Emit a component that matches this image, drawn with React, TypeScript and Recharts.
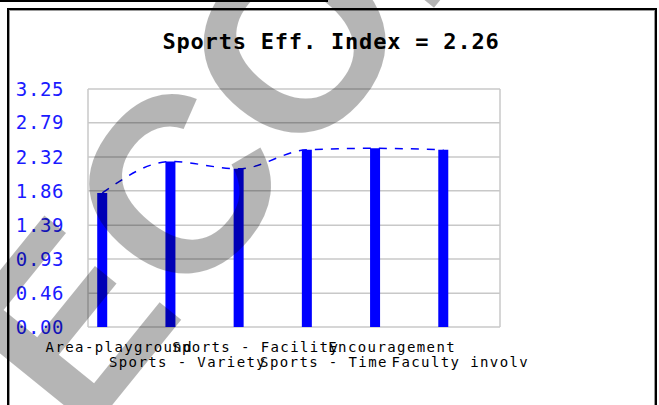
import React from 'react'
import {
  ComposedChart,
  Bar,
  Line,
  XAxis,
  YAxis,
  CartesianGrid,
} from 'recharts'

const categories = [
  'Area-playground',
  'Sports - Variety',
  'Sports - Facility',
  'Sports - Time',
  'Encouragement',
  'Faculty involv',
]
const scores = [1.83, 2.26, 2.16, 2.42, 2.44, 2.42]
const yTicks = [0, 0.46, 0.93, 1.39, 1.86, 2.32, 2.79, 3.25]
const effIndex = 2.26

const data = categories.map((name, i) => ({ idx: i, name, score: scores[i] }))

const mono = '"DejaVu Sans Mono", monospace'

function CategoryTick(props: any) {
  const { x, y, payload } = props
  const i = payload.value as number
  const row = i % 2
  return (
    <text
      x={x + 17}
      y={y + (row === 0 ? 25 : 40)}
      textAnchor="middle"
      fontFamily={mono}
      fontSize={14}
      letterSpacing={1.4}
      fill="#000"
    >
      {categories[i]}
    </text>
  )
}

export default function App() {
  return (
    <div
      style={{
        position: 'fixed',
        left: 0,
        top: 0,
        width: 659,
        height: 405,
        overflow: 'hidden',
        background: '#fff',
      }}
    >
      <div style={{ position: 'absolute', left: 0, top: 0, width: 328, height: 2, background: '#000' }} />
      <div
        style={{
          position: 'absolute',
          left: 7,
          top: 8,
          width: 650,
          height: 500,
          border: '2px solid #000',
          boxShadow: 'inset 1px 1px 0 #999, inset -1px 0 0 #999',
          boxSizing: 'border-box',
        }}
      />
      <div
        style={{
          position: 'absolute',
          left: 0,
          top: 30,
          width: 662,
          textAlign: 'center',
          fontFamily: mono,
          fontWeight: 'bold',
          fontSize: 22,
          letterSpacing: 0.8,
          color: '#000',
          lineHeight: '24px',
        }}
      >
        Sports Eff. Index = {effIndex.toFixed(2)}
      </div>
      <div style={{ position: 'absolute', left: 0, top: 0 }}>
        <ComposedChart
          width={659}
          height={405}
          data={data}
          margin={{ top: 89, right: 159, left: 0, bottom: 0 }}
        >
          <CartesianGrid
            stroke="#c8c8c8"
            strokeWidth={1.5}
            verticalCoordinatesGenerator={({ offset }: any) => [offset.left, offset.left + offset.width]}
          />
          <XAxis
            dataKey="idx"
            type="number"
            domain={[-0.21, 5.83]}
            allowDataOverflow
            ticks={[0, 1, 2, 3, 4, 5]}
            interval={0}
            axisLine={false}
            tickLine={false}
            tickSize={0}
            tickMargin={0}
            height={78}
            tick={<CategoryTick />}
          />
          <YAxis
            type="number"
            domain={[0, 3.25]}
            ticks={yTicks}
            interval={0}
            width={88}
            axisLine={false}
            tickLine={false}
            tickSize={0}
            tickMargin={24}
            tickFormatter={(v: number) => v.toFixed(2)}
            tick={{ fill: '#1a1aff', fontFamily: mono, fontSize: 19, letterSpacing: 0.6 }}
          />
          <Bar dataKey="score" fill="#0000ff" barSize={10} isAnimationActive={false} />
          <Line
            dataKey="score"
            type="monotone"
            stroke="#0000ff"
            strokeWidth={1.5}
            strokeDasharray="8 8"
            dot={false}
            isAnimationActive={false}
          />
        </ComposedChart>
      </div>
      <svg
        width={659}
        height={405}
        style={{ position: 'absolute', left: 0, top: 0, pointerEvents: 'none' }}
      >
        <g transform="translate(292 40) rotate(-51)">
          <text
            x={-444}
            y={90}
            fontFamily='"Liberation Sans", Arial, sans-serif'
            fontWeight="bold"
            fontSize={250}
            fill="#000"
            fillOpacity={0.29}
          >
            ECOLE
          </text>
        </g>
      </svg>
    </div>
  )
}
